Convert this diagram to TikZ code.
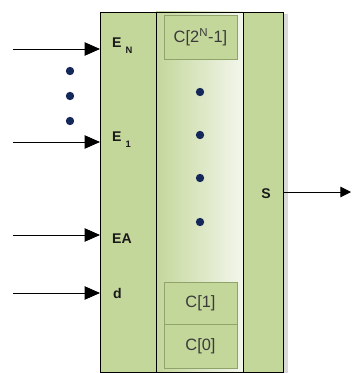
\documentclass[tikz,border=0pt]{standalone}
\usepackage{fontspec}
\setmainfont{Liberation Sans}
\usetikzlibrary{positioning, arrows.meta, shadows}

\definecolor{cellgreen}{HTML}{C4D79B}
\definecolor{celledge}{HTML}{8FA36A}
\definecolor{dotblue}{HTML}{14285A}
\definecolor{fadewhite}{HTML}{F3F6EC}
\definecolor{celltext}{HTML}{3A3A3A}

\newcommand{\pinsub}[1]{\hspace{3.5pt}\raisebox{-0.75ex}{\fontsize{8}{9}\selectfont\bfseries #1}}

\begin{document}
\begin{tikzpicture}[
    x=0.03cm, y=-0.03cm,
    col/.style={draw, line width=0.6pt, rectangle, anchor=north west, inner sep=0pt, outer sep=0pt, minimum height=10.8cm},
    cell/.style={draw=celledge, line width=0.6pt, fill=cellgreen, rectangle, inner sep=0pt, minimum width=2.19cm, font=\fontsize{14}{16}\selectfont, text=celltext},
    pin/.style={anchor=base west, font=\fontsize{12}{14}\selectfont\bfseries, text=black!90},
    arrow/.style={-{Triangle[length=4.6mm, width=4mm]}, line width=0.8pt},
    outarrow/.style={-{Triangle[length=3.2mm, width=3.2mm]}, line width=0.8pt}
]
\useasboundingbox (0,0) rectangle (352,373);

% Three columns of the block
\node[col, fill=cellgreen, minimum width=1.68cm] (ctrl) at (100,12) {};
\node[col, left color=cellgreen, right color=fadewhite, minimum width=2.61cm] (mem) at (156,12) {};
\node[col, fill=cellgreen, minimum width=1.2cm, drop shadow={shadow xshift=1.6mm, shadow yshift=-0.6mm, opacity=0.3}] (res) at (243,12) {};

% Memory cells
\node[cell, minimum height=1.32cm] (ctop) at (200.5,37) {C[2\textsuperscript{N}-1]};
\node[cell, minimum height=1.26cm] (c1) at (200.5,303) {C[1]};
\node[cell, minimum height=1.32cm, below=0pt of c1] (c0) {C[0]};

% Dots
\foreach \y in {71,96,121}
    \fill[dotblue] (70,\y) circle[radius=1.25mm];
\foreach \y in {92,135,178,222}
    \fill[dotblue] (200,\y) circle[radius=1.25mm];

% Input pins
\node[pin] (en) at (108,48) {E\pinsub{N}};
\node[pin] (e1) at (108,142) {E\pinsub{1}};
\node[pin] (ea) at (108,243) {EA};
\node[pin] (d) at (109,298) {d};
\node[pin, anchor=base] (s) at (266,198) {S};

% Input arrows
\coordinate (srcN) at (13,49);
\coordinate (src1) at (13,142);
\coordinate (srcA) at (13,235);
\coordinate (srcD) at (13,293);
\draw[arrow] (srcN) -- (srcN -| ctrl.west);
\draw[arrow] (src1) -- (src1 -| ctrl.west);
\draw[arrow] (srcA) -- (srcA -| ctrl.west);
\draw[arrow] (srcD) -- (srcD -| ctrl.west);

% Output arrow
\coordinate (dst) at (351,192);
\draw[outarrow] (dst -| res.east) -- (dst);

\end{tikzpicture}
\end{document}
